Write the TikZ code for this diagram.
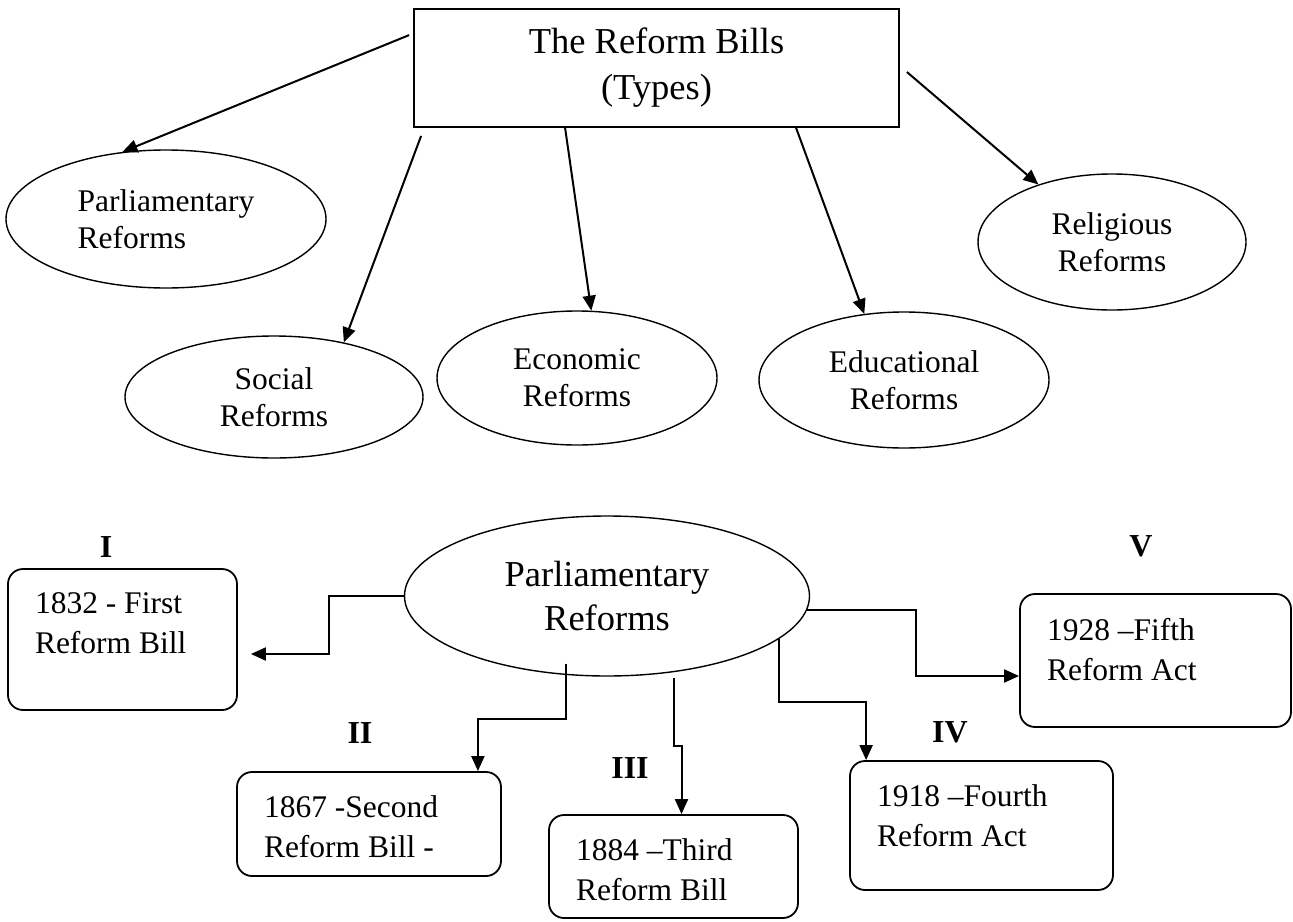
\documentclass[tikz,border=0pt]{standalone}
\usepackage{fontspec}
\setmainfont{Liberation Serif}
\usetikzlibrary{shapes.geometric,positioning,arrows.meta}
\newcommand{\billtext}[3]{\parbox[c][#2][t]{#1}{\raggedright #3}}

\begin{document}
\begin{tikzpicture}[x=1pt,y=-1pt]
\tikzstyle{title}=[draw,line width=1.8pt,inner sep=0pt,minimum width=485pt,minimum height=118pt,align=center,font=\fontsize{36.5pt}{46pt}\selectfont]
\tikzstyle{kind}=[draw,ellipse,line width=1.4pt,inner sep=0pt,align=center,font=\fontsize{31.5pt}{37pt}\selectfont]
\tikzstyle{bill}=[draw,rounded corners=15pt,line width=1.8pt,inner xsep=27pt,inner ysep=24pt,font=\fontsize{31.5pt}{40pt}\selectfont]
\tikzstyle{numeral}=[inner sep=0pt,font=\fontsize{32pt}{32pt}\selectfont\bfseries]
\tikzstyle{link}=[line width=2pt,-{Triangle[length=15pt,width=13pt]}]

\useasboundingbox (0,0) rectangle (1293,921);

\node[title] (types) at (656.5,68) {The Reform Bills\\(Types)};

\node[kind,align=left,minimum width=320pt,minimum height=138pt] (parl) at (166,219) {Parliamentary\\Reforms};
\node[kind,minimum width=298pt,minimum height=122pt] (social) at (274,397) {Social\\Reforms};
\node[kind,minimum width=280pt,minimum height=134pt] (econ) at (577,378) {Economic\\Reforms};
\node[kind,minimum width=290pt,minimum height=136pt] (educ) at (904,380) {Educational\\Reforms};
\node[kind,minimum width=268pt,minimum height=136pt] (relig) at (1112,242) {Religious\\Reforms};

\draw[link] ([xshift=-4pt,yshift=-27pt]types.north west) -- (parl.123);
\draw[link] ([xshift=8pt,yshift=-8pt]types.south west) -- (social.38);
\draw[link] ([xshift=152pt]types.south west) -- (econ.78);
\draw[link] ([xshift=383pt]types.south west) -- (educ.121);
\draw[link] ([xshift=7pt,yshift=-4pt]types.east) -- (relig.142);

\node[kind,minimum width=405pt,minimum height=160pt,font=\fontsize{36.5pt}{44pt}\selectfont] (pr) at (607,596) {Parliamentary\\Reforms};

\node[bill] (first) at (122.5,639.5) {\billtext{175pt}{93pt}{1832 - First\\Reform Bill}};
\node[bill] (second) at (369,824) {\billtext{210pt}{56pt}{1867 -Second\\Reform Bill -}};
\node[bill] (third) at (673.5,866.5) {\billtext{195pt}{55pt}{1884 –Third\\Reform Bill}};
\node[bill] (fourth) at (981.5,825.5) {\billtext{209pt}{81pt}{1918 –Fourth\\Reform Act}};
\node[bill] (fifth) at (1155.5,660.5) {\billtext{217pt}{85pt}{1928 –Fifth\\Reform Act}};

\node[numeral,above=10pt of first,xshift=-16.5pt] (n1) {I};
\node[numeral,above=27pt of second,xshift=-9pt] (n2) {II};
\node[numeral,above=35pt of third,xshift=-43.5pt] (n3) {III};
\node[numeral,above=17pt of fourth,xshift=-31.5pt] (n4) {IV};
\node[numeral,above=36pt of fifth,xshift=-14.5pt] (n5) {V};

\draw[link] (pr.west) -- ++(-75,0) |- ([xshift=13pt,yshift=-14.5pt]first.east);
\draw[link] ([xshift=-41pt,yshift=13pt]pr.south) -- ++(0,55) -| ([xshift=-24pt]second.north east);
\draw[link] ([xshift=67pt,yshift=-1pt]pr.south) -- ++(0,68) -| ([xshift=8pt]third.north);
\draw[link] (pr.-14) -- ++(0,63) -| ([xshift=17pt]fourth.north west);
\draw[link] (pr.-4) -- ++(109,0) |- ([yshift=-15.5pt]fifth.west);
\end{tikzpicture}
\end{document}
